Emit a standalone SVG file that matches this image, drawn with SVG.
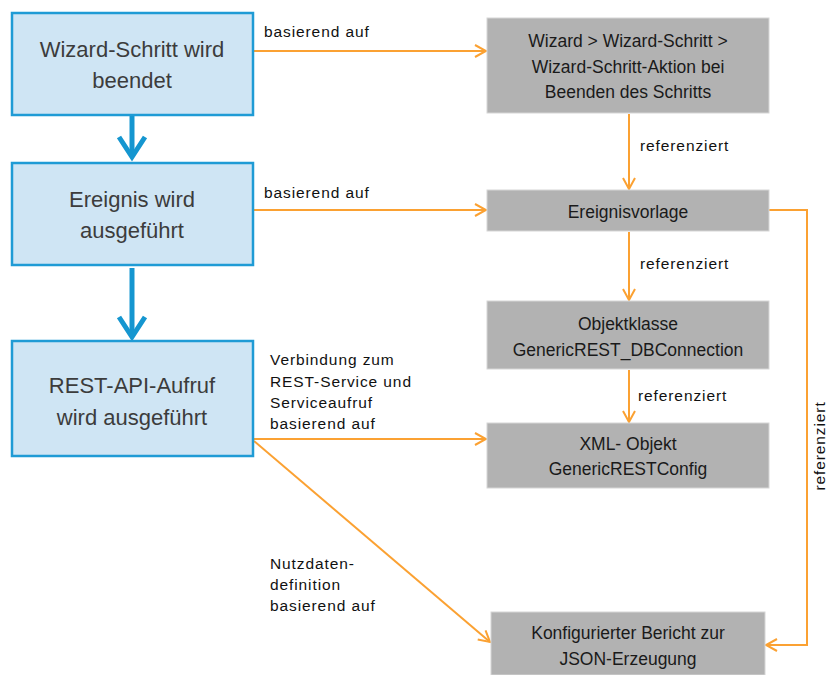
<svg xmlns="http://www.w3.org/2000/svg" width="832" height="675" viewBox="0 0 832 675">
<defs>
<style>
.blue rect{fill:#cfe5f4;stroke:#1f9bd5;stroke-width:2.5}
.blue text{font-family:"Liberation Sans",Arial,sans-serif;font-size:22px;fill:#3c3c3c;text-anchor:middle}
.gray rect{fill:#b2b2b2;stroke:#d6d6d6;stroke-width:1}
.gray text{font-family:"Liberation Sans",Arial,sans-serif;font-size:17.5px;fill:#1a1a1a;text-anchor:middle}
.lbl{font-family:"Liberation Sans",Arial,sans-serif;font-size:15.5px;fill:#111;letter-spacing:0.9px}
.oc{fill:none;stroke:#fba132;stroke-width:2}
.bc{fill:none;stroke:#1596d0;stroke-width:5}
</style>
<marker id="oa" markerWidth="14" markerHeight="14" refX="12" refY="7" orient="auto" markerUnits="userSpaceOnUse" viewBox="0 0 14 14">
<path d="M1,1 L12,7 L1,13" fill="none" stroke="#fba132" stroke-width="2"/>
</marker>
</defs>
<rect width="832" height="675" fill="#fff"/>

<g id="connectors">
<path class="bc" d="M132,115 V156"/>
<path class="bc" d="M119,137 L132,157 L145,137" stroke-linejoin="miter"/>
<path class="bc" d="M132,268 V336"/>
<path class="bc" d="M119,317 L132,337 L145,317" stroke-linejoin="miter"/>

<path class="oc" d="M253,51 H486" marker-end="url(#oa)"/>
<path class="oc" d="M253,210 H486" marker-end="url(#oa)"/>
<path class="oc" d="M253,439 H486" marker-end="url(#oa)"/>
<path class="oc" d="M254,441 L490,642" marker-end="url(#oa)"/>
<path class="oc" d="M629,114 V189" marker-end="url(#oa)"/>
<path class="oc" d="M629,232 V300" marker-end="url(#oa)"/>
<path class="oc" d="M629,370 V422" marker-end="url(#oa)"/>
<path class="oc" d="M769,210 H807 V645 H766" marker-end="url(#oa)"/>

<text class="lbl" x="264" y="37">basierend auf</text>
<text class="lbl" x="264" y="198">basierend auf</text>
<text class="lbl" x="270" y="365">Verbindung zum</text>
<text class="lbl" x="270" y="387">REST-Service und</text>
<text class="lbl" x="270" y="408">Serviceaufruf</text>
<text class="lbl" x="270" y="429">basierend auf</text>
<text class="lbl" x="270" y="569">Nutzdaten-</text>
<text class="lbl" x="270" y="590">definition</text>
<text class="lbl" x="270" y="611">basierend auf</text>
<text class="lbl" x="640" y="151">referenziert</text>
<text class="lbl" x="640" y="269">referenziert</text>
<text class="lbl" x="638" y="401">referenziert</text>
<text class="lbl" transform="translate(825,446) rotate(-90)" text-anchor="middle">referenziert</text>
</g>

<g id="n1" class="blue"><rect x="12" y="13" width="241" height="102"/>
<text x="132" y="57">Wizard-Schritt  wird</text><text x="132" y="88">beendet</text></g>
<g id="n2" class="blue"><rect x="12" y="163" width="241" height="102"/>
<text x="132" y="207">Ereignis  wird</text><text x="132" y="238">ausgeführt</text></g>
<g id="n3" class="blue"><rect x="12" y="341" width="241" height="115"/>
<text x="132" y="393">REST-API-Aufruf</text><text x="132" y="425">wird  ausgeführt</text></g>

<g id="g1" class="gray"><rect x="487" y="18" width="282" height="95"/>
<text x="628" y="47">Wizard &gt; Wizard-Schritt &gt;</text>
<text x="628" y="73">Wizard-Schritt-Aktion bei</text>
<text x="628" y="98">Beenden des Schritts</text></g>
<g id="g2" class="gray"><rect x="487" y="190" width="282" height="41"/>
<text x="628" y="218">Ereignisvorlage</text></g>
<g id="g3" class="gray"><rect x="487" y="301" width="282" height="68"/>
<text x="628" y="330">Objektklasse</text>
<text x="628" y="356">GenericREST_DBConnection</text></g>
<g id="g4" class="gray"><rect x="487" y="423" width="282" height="65"/>
<text x="628" y="450">XML- Objekt</text>
<text x="628" y="475">GenericRESTConfig</text></g>
<g id="g5" class="gray"><rect x="491" y="612" width="274" height="63"/>
<text x="628" y="639">Konfigurierter  Bericht zur</text>
<text x="628" y="665">JSON-Erzeugung</text></g>
</svg>
